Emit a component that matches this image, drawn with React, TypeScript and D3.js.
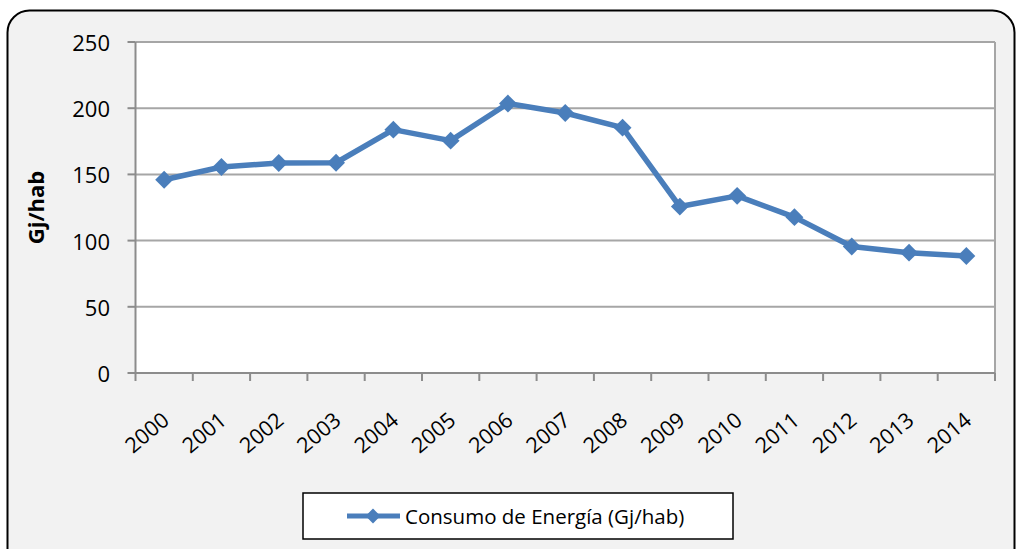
import React from "react";
import * as d3 from "d3";

const years = ["2000","2001","2002","2003","2004","2005","2006","2007","2008","2009","2010","2011","2012","2013","2014"];
const consumo = [146, 155.6, 158.6, 158.8, 183.8, 175.5, 203.5, 196.4, 185.3, 125.7, 133.8, 117.7, 95.5, 90.9, 88.4];
const yTicks = [0, 50, 100, 150, 200, 250];
const seriesName = "Consumo de Energía (Gj/hab)";
const yTitle = "Gj/hab";

const W = 1016, H = 549;
const plot = { left: 135.5, right: 995, top: 42, bottom: 373 };
const FONT = "'Open Sans', sans-serif";
const BLUE = "#4a7ebb";

export default function App() {
  const x = d3.scaleBand().domain(years).range([plot.left, plot.right]).padding(0);
  const y = d3.scaleLinear().domain([0, 250]).range([plot.bottom, plot.top]);
  const cx = (d: string) => (x(d) as number) + x.bandwidth() / 2;
  const line = d3.line<number>().x((_, i) => cx(years[i])).y((v) => y(v));
  const diamond = d3.symbol().type(d3.symbolSquare).size(160)() as string;
  const boundaries = d3.range(years.length + 1).map((i) => plot.left + i * x.bandwidth());

  return (
    <svg width={W} height={H} style={{ position: "absolute", left: 0, top: 0, display: "block" }} fontFamily={FONT}>
      <rect x={0} y={0} width={W} height={H} fill="#ffffff" />
      <rect x={7.5} y={10.5} width={1007} height={580} rx={22} ry={22} fill="#f2f2f2" stroke="#000" strokeWidth={2} />
      <rect x={plot.left} y={plot.top} width={plot.right - plot.left} height={plot.bottom - plot.top} fill="#ffffff" />
      {yTicks.map((t) => (
        <g key={t}>
          <line x1={plot.left} x2={plot.right} y1={y(t)} y2={y(t)} stroke="#a6a6a6" strokeWidth={2} />
          <line x1={plot.left - 8} x2={plot.left} y1={y(t)} y2={y(t)} stroke="#8c8c8c" strokeWidth={2} />
          <text x={110} y={y(t)} textAnchor="end" dominantBaseline="central" fontSize={22} fill="#000">{t}</text>
        </g>
      ))}
      <line x1={plot.right} x2={plot.right} y1={plot.top} y2={plot.bottom} stroke="#a6a6a6" strokeWidth={2} />
      <line x1={plot.left} x2={plot.left} y1={plot.top} y2={plot.bottom + 1} stroke="#8c8c8c" strokeWidth={2} />
      <line x1={plot.left} x2={plot.right} y1={plot.bottom} y2={plot.bottom} stroke="#8c8c8c" strokeWidth={2} />
      {boundaries.map((b, i) => (
        <line key={i} x1={b} x2={b} y1={plot.bottom} y2={plot.bottom + 8} stroke="#8c8c8c" strokeWidth={2} />
      ))}
      {years.map((yr) => (
        <text key={yr} transform={`translate(${cx(yr) + 1},${plot.bottom + 43}) rotate(-40)`} textAnchor="end" dominantBaseline="central" fontSize={21.5} fill="#000">{yr}</text>
      ))}
      <text transform={`translate(35,${(plot.top + plot.bottom) / 2}) rotate(-90)`} textAnchor="middle" dominantBaseline="central" fontSize={22} fontWeight="bold" fill="#000">{yTitle}</text>
      <path d={line(consumo) as string} fill="none" stroke={BLUE} strokeWidth={5.5} strokeLinejoin="round" />
      {consumo.map((v, i) => (
        <path key={i} d={diamond} transform={`translate(${cx(years[i])},${y(v)}) rotate(45)`} fill={BLUE} />
      ))}
      <rect x={303} y={493} width={430} height={46} fill="#ffffff" stroke="#000" strokeWidth={1.5} />
      <line x1={347} x2={400} y1={516} y2={516} stroke={BLUE} strokeWidth={5} />
      <path d={d3.symbol().type(d3.symbolSquare).size(110)() as string} transform="translate(373,516) rotate(45)" fill={BLUE} />
      <text x={405} y={516} dominantBaseline="central" fontSize={20.5} fill="#000">{seriesName}</text>
    </svg>
  );
}
